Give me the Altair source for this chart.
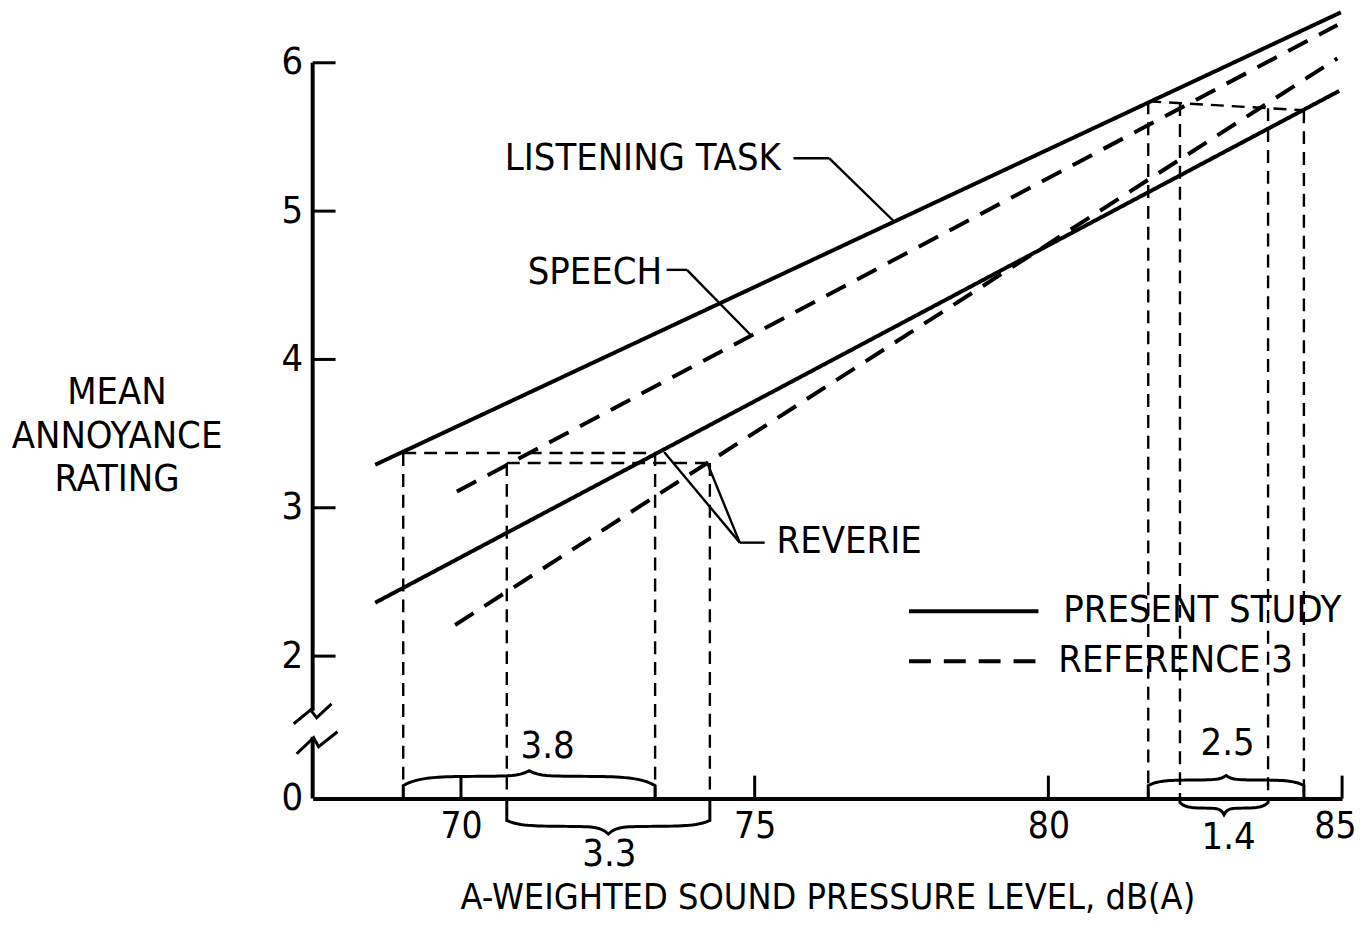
import altair as alt
import pandas as pd
import numpy as np

FONT = "DejaVu Sans Condensed, Liberation Sans Narrow, DejaVu Sans, sans-serif"
FS = 38

# ---------------- data ----------------
# regression lines: endpoints (dB(A), mean annoyance rating)
line_names = ["LISTENING TASK", "REVERIE (present)", "SPEECH", "REVERIE (ref 3)"]
line_source = ["present", "present", "reference", "reference"]
line_x0 = [68.54, 68.54, 69.93, 69.90]
line_y0 = [3.29, 2.36, 3.11, 2.21]
line_x1 = [84.98, 84.95, 84.92, 84.92]
line_y1 = [6.34, 5.81, 6.255, 6.03]

# construction (projection) lines
guide_x0 = [69.017, 69.017, 73.305, 70.780, 70.780, 74.237, 81.70, 81.70, 82.24, 83.74, 84.35]
guide_y0 = [3.369, 3.369, 3.369, 3.302, 3.302, 3.302, 5.74, 5.74, 5.728, 5.694, 5.68]
guide_x1 = [73.305, 69.017, 73.305, 74.237, 70.780, 74.237, 84.35, 81.70, 82.24, 83.74, 84.35]
guide_y1 = [3.369, 1.04, 1.04, 3.302, 1.04, 1.04, 5.68, 1.04, 1.04, 1.04, 1.04]

# braces marking level differences
brace_labels = ["3.8", "3.3", "2.5", "1.4"]
brace_x0 = [69.017, 70.780, 81.70, 82.24]
brace_x1 = [73.305, 74.237, 84.35, 83.74]
brace_end = [1.127, 0.892, 1.127, 1.013]
brace_body = [1.19, 0.852, 1.165, 0.975]
brace_tip = [1.228, 0.80, 1.195, 0.93]
brace_label_x = [71.475, 72.525, 83.05, 83.068]
brace_label_y = [1.389, 0.658, 1.409, 0.772]
AXIS_BASE = 1.04

# annotation labels and leaders
ann_text = ["LISTENING TASK", "SPEECH", "REVERIE"]
ann_x = [70.746, 71.136, 75.373]
ann_y = [5.349, 4.584, 2.772]
lead_x0 = [75.661, 76.271, 73.50, 73.847, 75.169, 74.746, 74.746]
lead_y0 = [5.356, 5.356, 4.604, 4.604, 2.765, 2.765, 2.765]
lead_x1 = [76.271, 77.373, 73.847, 74.932, 74.746, 73.458, 74.186]
lead_y1 = [5.356, 4.93, 4.604, 4.165, 2.765, 3.376, 3.309]

# legend
leg_text = ["PRESENT STUDY", "REFERENCE 3"]
leg_source = ["present", "reference"]
leg_x0 = [77.627, 77.627]
leg_x1 = [79.831, 79.831]
leg_y = [2.302, 1.966]
leg_text_x = [80.254, 80.17]

# y-axis break
yaxis_seg_y0 = [6.0, 1.456]
yaxis_seg_y1 = [1.631, 1.04]
zig_id = [0, 0, 0, 0, 1, 1, 1, 1]
zig_x = [67.153, 67.441, 67.542, 67.797, 67.203, 67.492, 67.576, 67.898]
zig_y = [1.544, 1.638, 1.584, 1.678, 1.342, 1.450, 1.389, 1.490]

x_ticks = [70, 75, 80, 85]
y_ticks = [2, 3, 4, 5, 6]

# ---------------- scales / axes ----------------
W, H = 1034, 739
xscale = alt.Scale(domain=[67.475, 85], nice=False, zero=False)
yscale = alt.Scale(domain=[AXIS_BASE, 6.0], nice=False, zero=False)
xaxis = alt.Axis(values=x_ticks, ticks=False, tickSize=0, grid=False,
                 domainWidth=4, domainColor="black",
                 labelFont=FONT, labelFontSize=37, labelColor="black",
                 labelPadding=28, labelBaseline="middle",
                 labelFlush=True, labelFlushOffset=14,
                 title="A-WEIGHTED SOUND PRESSURE LEVEL, dB(A)",
                 titleFont=FONT, titleFontSize=36, titleFontWeight="normal",
                 titleColor="black", titleY=99, titleBaseline="middle")
yaxis = alt.Axis(values=[AXIS_BASE] + y_ticks, ticks=False, tickSize=0, grid=False,
                 domain=False,
                 labelExpr="datum.value < 1.5 ? '0' : format(datum.value, 'd')",
                 labelFont=FONT, labelFontSize=FS, labelColor="black",
                 labelPadding=10, labelBaseline="middle", labelFlush=False,
                 title=["MEAN", "ANNOYANCE", "RATING"], titleAngle=0,
                 titleAlign="center", titleBaseline="middle",
                 titleX=-197, titleY=331, titleLineHeight=44,
                 titleFont=FONT, titleFontSize=FS, titleFontWeight="normal",
                 titleColor="black")


def X(f="x"):
    return alt.X(f"{f}:Q", scale=xscale, axis=xaxis)


def Y(f="y"):
    return alt.Y(f"{f}:Q", scale=yscale, axis=yaxis)


dash_scale = alt.Scale(domain=["present", "reference"], range=[[1, 0], [22, 13]])

# ---------------- layers ----------------
lines_df = pd.DataFrame({"name": line_names, "source": line_source,
                         "x": line_x0, "y": line_y0, "x2": line_x1, "y2": line_y1})
lines = alt.Chart(lines_df).mark_rule(strokeWidth=4, color="black").encode(
    x=X(), y=Y(), x2="x2:Q", y2="y2:Q",
    strokeDash=alt.StrokeDash("source:N", scale=dash_scale, legend=None))

guides_df = pd.DataFrame({"x": guide_x0, "y": guide_y0, "x2": guide_x1, "y2": guide_y1})
guides = alt.Chart(guides_df).mark_rule(strokeWidth=2.4, color="black",
                                        strokeDash=[13, 8]).encode(
    x=X(), y=Y(), x2="x2:Q", y2="y2:Q")

lead_df = pd.DataFrame({"x": lead_x0, "y": lead_y0, "x2": lead_x1, "y2": lead_y1})
leaders = alt.Chart(lead_df).mark_rule(strokeWidth=2.4, color="black").encode(
    x=X(), y=Y(), x2="x2:Q", y2="y2:Q")

ann_df = pd.DataFrame({"t": ann_text, "x": ann_x, "y": ann_y})
ann = alt.Chart(ann_df).mark_text(font=FONT, fontSize=FS, align="left",
                                  baseline="middle", color="black").encode(
    x=X(), y=Y(), text="t:N")


def brace_rows(k, n=30):
    x0, x1 = brace_x0[k], brace_x1[k]
    xm = (x0 + x1) / 2
    ye, yb, yt = brace_end[k], brace_body[k], brace_tip[k]
    rows = [(x0, AXIS_BASE)]
    us = np.linspace(0, 1, n)
    prof = ye + (yb - ye) * (1 - np.exp(-us * 8)) + (yt - yb) * np.exp(-(1 - us) * 14)
    for u, p in zip(us, prof):
        rows.append((x0 + u * (xm - x0), p))
    for u, p in zip(us[::-1], prof[::-1]):
        rows.append((x1 - u * (x1 - xm), p))
    rows.append((x1, AXIS_BASE))
    return [{"b": brace_labels[k], "i": i, "x": r[0], "y": r[1]} for i, r in enumerate(rows)]


brace_df = pd.DataFrame([r for k in range(len(brace_labels)) for r in brace_rows(k)])
braces = alt.Chart(brace_df).mark_line(strokeWidth=3, color="black").encode(
    x=X(), y=Y(), detail="b:N", order="i:Q")

blab_df = pd.DataFrame({"t": brace_labels, "x": brace_label_x, "y": brace_label_y})
blabels = alt.Chart(blab_df).mark_text(font=FONT, fontSize=FS, align="center",
                                       baseline="middle", color="black").encode(
    x=X(), y=Y(), text="t:N")

leg_df = pd.DataFrame({"t": leg_text, "source": leg_source, "x": leg_x0,
                       "x2": leg_x1, "y": leg_y, "tx": leg_text_x})
leg_lines = alt.Chart(leg_df).mark_rule(strokeWidth=4, color="black").encode(
    x=X(), x2="x2:Q", y=Y(),
    strokeDash=alt.StrokeDash("source:N", scale=dash_scale, legend=None))
leg_text_l = alt.Chart(leg_df).mark_text(font=FONT, fontSize=FS, align="left",
                                         baseline="middle", color="black").encode(
    x=X("tx"), y=Y(), text="t:N")

yseg_df = pd.DataFrame({"y": yaxis_seg_y0, "y2": yaxis_seg_y1})
yaxis_line = alt.Chart(yseg_df).mark_rule(strokeWidth=4, color="black").encode(
    x=alt.value(0), y=Y(), y2="y2:Q")

zig_df = pd.DataFrame({"z": zig_id, "x": zig_x, "y": zig_y,
                       "i": list(range(len(zig_x)))})
zig = alt.Chart(zig_df).mark_line(strokeWidth=3, color="black").encode(
    x=X(), y=Y(), detail="z:N", order="i:Q")

ytick_df = pd.DataFrame({"y": y_ticks})
yticks = alt.Chart(ytick_df).mark_rule(strokeWidth=3, color="black").encode(
    y=Y(), x=alt.value(0), x2=alt.value(23))

xtick_df = pd.DataFrame({"x": x_ticks})
xticks = alt.Chart(xtick_df).mark_rule(strokeWidth=3, color="black").encode(
    x=X(), y=alt.value(H), y2=alt.value(H - 23))

chart = alt.layer(
    guides, lines, leaders, ann, braces, blabels, leg_lines, leg_text_l,
    yaxis_line, zig, yticks, xticks
).properties(
    width=W, height=H,
    padding={"left": 306, "top": 53, "right": 20, "bottom": 120},
    autosize=alt.AutoSizeParams(type="none"),
    background="white",
).configure_view(stroke=None)

chart.save("out.html", embed_options={"renderer": "svg", "actions": False})
